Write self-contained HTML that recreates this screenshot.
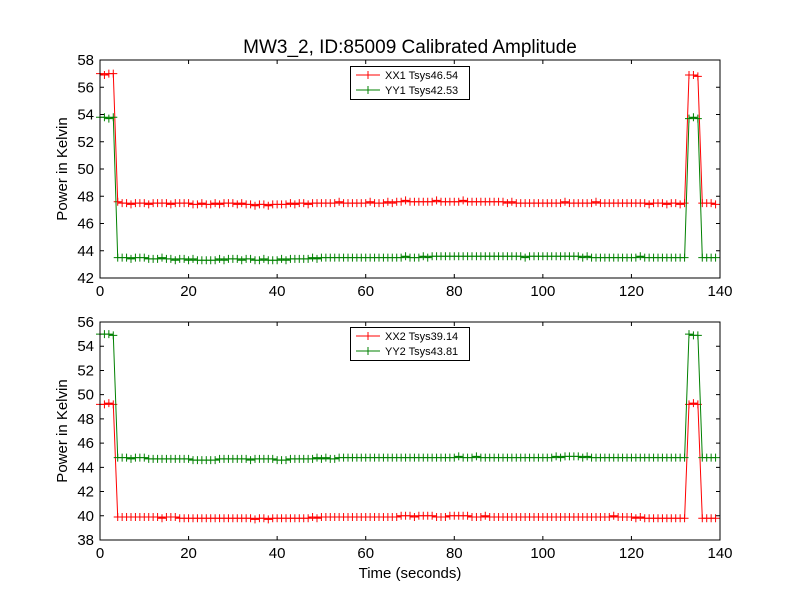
<!DOCTYPE html>
<html><head><meta charset="utf-8"><style>
body{margin:0;background:#fff;}
svg{display:block;font-family:"Liberation Sans","DejaVu Sans",sans-serif;}
</style></head><body>
<svg id="c" width="800" height="600" viewBox="0 0 800 600"></svg>
<script>
const xx1 = [57.0,56.9,57.0,57.0,47.6,47.5,47.5,47.4,47.5,47.5,47.5,47.4,47.5,47.5,47.5,47.5,47.4,47.5,47.5,47.5,47.5,47.4,47.4,47.5,47.4,47.4,47.5,47.4,47.5,47.5,47.5,47.4,47.5,47.4,47.4,47.3,47.4,47.4,47.3,47.4,47.4,47.4,47.4,47.5,47.4,47.5,47.5,47.4,47.5,47.5,47.5,47.5,47.5,47.5,47.6,47.5,47.5,47.5,47.5,47.5,47.5,47.6,47.5,47.5,47.5,47.6,47.5,47.6,47.6,47.7,47.6,47.6,47.6,47.6,47.6,47.6,47.7,47.6,47.6,47.6,47.6,47.6,47.7,47.6,47.6,47.6,47.6,47.6,47.6,47.6,47.6,47.6,47.5,47.6,47.5,47.5,47.5,47.5,47.5,47.5,47.5,47.5,47.5,47.5,47.5,47.6,47.5,47.5,47.5,47.5,47.5,47.5,47.6,47.5,47.5,47.5,47.5,47.5,47.5,47.5,47.5,47.5,47.5,47.5,47.4,47.5,47.5,47.5,47.4,47.5,47.5,47.4,47.5,56.9,56.9,56.8,47.5,47.5,47.5,47.4];
const yy1 = [53.8,53.8,53.7,53.8,43.5,43.5,43.5,43.4,43.5,43.5,43.5,43.4,43.4,43.4,43.5,43.4,43.4,43.3,43.4,43.4,43.3,43.4,43.3,43.3,43.3,43.3,43.3,43.4,43.3,43.4,43.4,43.4,43.3,43.4,43.4,43.3,43.3,43.4,43.3,43.3,43.3,43.4,43.3,43.4,43.4,43.4,43.4,43.4,43.5,43.4,43.5,43.5,43.5,43.5,43.5,43.5,43.5,43.5,43.5,43.5,43.5,43.5,43.5,43.5,43.5,43.5,43.5,43.5,43.5,43.6,43.5,43.5,43.5,43.6,43.5,43.6,43.6,43.6,43.6,43.6,43.6,43.6,43.6,43.6,43.6,43.6,43.6,43.6,43.6,43.6,43.6,43.6,43.6,43.6,43.6,43.6,43.5,43.6,43.6,43.6,43.6,43.6,43.6,43.6,43.6,43.6,43.6,43.6,43.6,43.5,43.6,43.5,43.5,43.5,43.5,43.5,43.5,43.5,43.5,43.5,43.5,43.5,43.6,43.5,43.5,43.5,43.5,43.5,43.5,43.5,43.5,43.5,43.5,53.7,53.8,53.7,43.5,43.5,43.5,43.5];
const xx2 = [49.2,49.2,49.3,49.2,39.9,39.9,39.9,39.9,39.9,39.9,39.9,39.9,39.9,39.9,39.8,39.9,39.9,39.9,39.8,39.8,39.8,39.8,39.8,39.8,39.8,39.8,39.8,39.8,39.8,39.8,39.8,39.8,39.8,39.8,39.8,39.7,39.8,39.8,39.7,39.8,39.8,39.8,39.8,39.8,39.8,39.8,39.8,39.8,39.9,39.8,39.9,39.9,39.9,39.9,39.9,39.9,39.9,39.9,39.9,39.9,39.9,39.9,39.9,39.9,39.9,39.9,39.9,39.9,40.0,40.0,40.0,39.9,40.0,40.0,40.0,40.0,39.9,39.9,39.9,40.0,40.0,40.0,40.0,40.0,39.9,39.9,39.9,40.0,39.9,39.9,39.9,39.9,39.9,39.9,39.9,39.9,39.9,39.9,39.9,39.9,39.9,39.9,39.9,39.9,39.9,39.9,39.9,39.9,39.9,39.9,39.9,39.9,39.9,39.9,39.9,39.9,40.0,39.9,39.9,39.9,39.9,39.8,39.9,39.8,39.8,39.8,39.8,39.8,39.8,39.8,39.8,39.8,39.8,49.2,49.3,49.2,39.8,39.8,39.8,39.8];
const yy2 = [55.0,55.0,55.0,54.9,44.8,44.8,44.8,44.7,44.8,44.8,44.8,44.7,44.7,44.7,44.7,44.7,44.7,44.7,44.7,44.7,44.7,44.6,44.6,44.6,44.6,44.6,44.6,44.7,44.7,44.7,44.7,44.7,44.7,44.7,44.6,44.7,44.7,44.7,44.7,44.7,44.6,44.6,44.6,44.7,44.7,44.7,44.7,44.7,44.7,44.8,44.7,44.8,44.7,44.7,44.8,44.8,44.8,44.8,44.8,44.8,44.8,44.8,44.8,44.8,44.8,44.8,44.8,44.8,44.8,44.8,44.8,44.8,44.8,44.8,44.8,44.8,44.8,44.8,44.8,44.8,44.8,44.9,44.8,44.8,44.8,44.9,44.8,44.8,44.8,44.8,44.8,44.8,44.8,44.8,44.8,44.8,44.8,44.8,44.8,44.8,44.8,44.8,44.8,44.9,44.8,44.9,44.9,44.9,44.9,44.8,44.9,44.8,44.8,44.8,44.8,44.8,44.8,44.8,44.8,44.8,44.8,44.8,44.8,44.8,44.8,44.8,44.8,44.8,44.8,44.8,44.8,44.8,44.8,55.0,54.9,54.9,44.8,44.8,44.8,44.8];
const xTicks = [0,20,40,60,80,100,120,140];
const yTicksTop = [42,44,46,48,50,52,54,56,58];
const yTicksBot = [38,40,42,44,46,48,50,52,54,56];
const legendTop = ["XX1 Tsys46.54","YY1 Tsys42.53"];
const legendBot = ["XX2 Tsys39.14","YY2 Tsys43.81"];

const svg = document.getElementById('c');
const NS = 'http://www.w3.org/2000/svg';
function mk(tag, attrs, parent){const e=document.createElementNS(NS,tag);for(const k in attrs)e.setAttribute(k,attrs[k]);(parent||svg).appendChild(e);return e;}
const X0=100,X1=720;
const sx = t => X0 + (t-0)/(140-0)*(X1-X0);

function panel(top,bot,ymin,ymax,yTicks,series,labels,name,legendY){
  const g = mk('g',{});
  
  
  const sy = v => bot - (v-ymin)/(ymax-ymin)*(bot-top);
  const colors=['#ff0000','#008000'];
  series.forEach((s,si)=>{
    const sg = mk('g',{},g);
    
    
    const pts = s.map((v,i)=>sx(i).toFixed(1)+','+sy(v).toFixed(1)).join(' ');
    const pl = mk('polyline',{points:pts,fill:'none',stroke:colors[si],'stroke-width':1},sg);
    
    
    let d='';
    s.forEach((v,i)=>{const x=sx(i),y=sy(v);d+=`M${x-4},${y}h8M${x},${y-4}v8`;});
    const mp = mk('path',{d:d,stroke:colors[si],'stroke-width':1,fill:'none'},sg);
    
    
  });
  mk('rect',{x:X0,y:top,width:X1-X0,height:bot-top,fill:'none',stroke:'#000','stroke-width':1},g);
  xTicks.forEach(t=>{
    const x=sx(t);
    mk('path',{d:`M${x},${bot}v-4M${x},${top}v4`,stroke:'#000'},g);
    const tx=mk('text',{x:x,y:bot+18,'text-anchor':'middle','font-size':15},g);
    tx.textContent=t;
    
    
  });
  yTicks.forEach(v=>{
    const y=sy(v);
    mk('path',{d:`M${X0},${y}h4M${X1},${y}h-4`,stroke:'#000'},g);
    const tx=mk('text',{x:X0-6,y:y+5,'text-anchor':'end','font-size':15},g);
    tx.textContent=v;
    
    
  });
  const yl=mk('text',{x:0,y:0,'text-anchor':'middle','font-size':15,transform:`translate(67,${(top+bot)/2}) rotate(-90)`},g);
  yl.textContent='Power in Kelvin';
  
  
  const lg=mk('g',{},g);
  
  
  mk('rect',{x:350.5,y:legendY+0.5,width:119,height:33,fill:'#fff',stroke:'#000'},lg);
  labels.forEach((l,i)=>{
    const y=legendY+9+i*15;
    mk('path',{d:`M356,${y}h24M368,${y-4}v8`,stroke:colors[i]},lg);
    const tx=mk('text',{x:385,y:y+4,'font-size':11},lg);
    tx.textContent=l;
    
    
  });
}
panel(60,278,42,58,yTicksTop,[xx1,yy1],legendTop,'top-panel',66);
panel(322,540,38,56,yTicksBot,[xx2,yy2],legendBot,'bottom-panel',327);
const title=mk('text',{x:410,y:53,'text-anchor':'middle','font-size':19});
title.textContent='MW3_2, ID:85009 Calibrated Amplitude';


const xt=mk('text',{x:410,y:578,'text-anchor':'middle','font-size':15});
xt.textContent='Time (seconds)';


</script>
</body></html>
